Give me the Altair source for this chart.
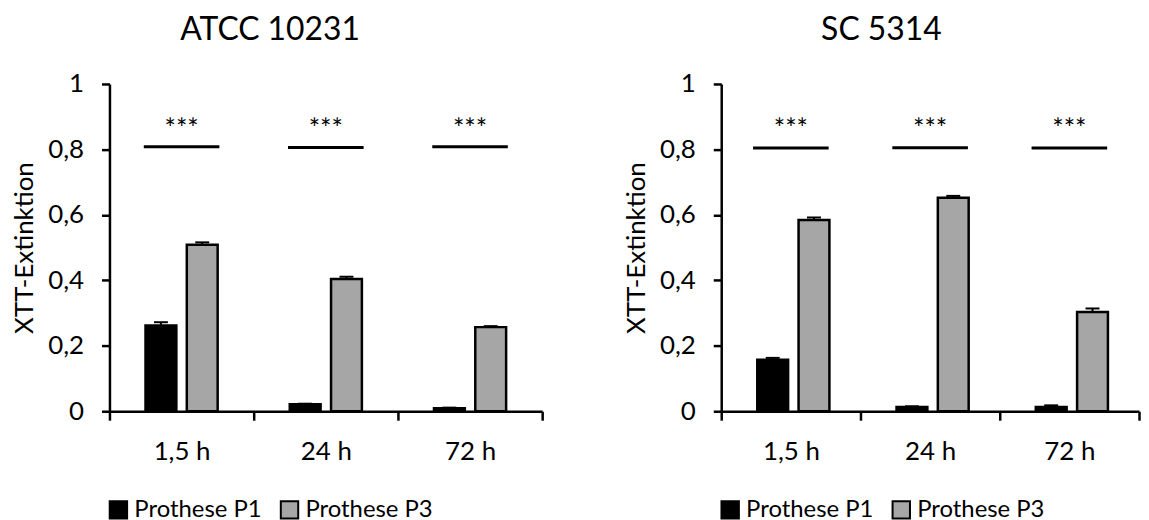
import altair as alt
import pandas as pd

times = ["1,5 h", "24 h", "72 h"]
groups = ["Prothese P1", "Prothese P3"]

titles = ["ATCC 10231", "SC 5314"]
atcc_p1 = [0.262, 0.021, 0.009]
atcc_p3 = [0.509, 0.404, 0.257]
atcc_p1_err = [0.010, 0.002, 0.002]
atcc_p3_err = [0.007, 0.007, 0.003]
sc_p1 = [0.157, 0.013, 0.013]
sc_p3 = [0.584, 0.652, 0.303]
sc_p1_err = [0.006, 0.002, 0.005]
sc_p3_err = [0.008, 0.006, 0.011]
sig_atcc = [0.808, 0.806, 0.808]
sig_sc = [0.804, 0.805, 0.804]
star_y = 0.88
stars = "***"

FONT = "Lato"
GRAY = "#A6A6A6"


def make_df(p1, p3, e1, e3):
    rows = []
    for i, t in enumerate(times):
        rows.append({"time": t, "group": groups[0], "v": p1[i], "top": p1[i] + e1[i]})
        rows.append({"time": t, "group": groups[1], "v": p3[i], "top": p3[i] + e3[i]})
    return pd.DataFrame(rows)


def panel(df, sig, title, width, title_dx, legend_x, po):
    sig_df = pd.DataFrame({"time": times, "y": sig, "s": [stars] * 3, "sy": [star_y] * 3})
    x = alt.X("time:N", sort=times, title=None,
              scale=alt.Scale(paddingInner=0, paddingOuter=0),
              axis=alt.Axis(labelAngle=0, tickBand="extent", tickSize=9, tickWidth=2.5,
                            domainWidth=2.5, domainColor="black", tickColor="black",
                            labelFontSize=26, labelFont=FONT, labelColor="black",
                            labelPadding=19, grid=False))
    xo = alt.XOffset("group:N", sort=groups,
                     scale=alt.Scale(paddingInner=0.253, paddingOuter=po))
    y = alt.Y("v:Q", scale=alt.Scale(domain=[0, 1]),
              title="XTT-Extinktion",
              axis=alt.Axis(values=[0, 0.2, 0.4, 0.6, 0.8, 1],
                            labelExpr="replace(format(datum.value, '~g'), '.', ',')",
                            tickSize=8, tickWidth=2.5, domainWidth=2.5,
                            domainColor="black", tickColor="black", grid=False,
                            labelFontSize=26, labelFont=FONT, labelColor="black",
                            labelPadding=18, titleFontSize=26, titleFont=FONT,
                            titleFontWeight="normal", titleColor="black", titlePadding=10))
    color = alt.Color("group:N", sort=groups,
                      scale=alt.Scale(domain=groups, range=["black", GRAY]),
                      legend=alt.Legend(title=None, orient="none", direction="horizontal",
                                        legendX=legend_x, legendY=416,
                                        symbolType="square", symbolSize=306,
                                        symbolStrokeColor="black", symbolStrokeWidth=2,
                                        labelFontSize=24, labelFont=FONT, labelColor="black",
                                        columnPadding=14, labelOffset=4, padding=0))
    bars = alt.Chart(df).mark_bar(stroke="black", strokeWidth=2.5).encode(
        x=x, xOffset=xo, y=y, color=color)
    err = alt.Chart(df).mark_rule(color="black", strokeWidth=2).encode(
        x=x, xOffset=xo, y="v:Q", y2="top:Q")
    cap = alt.Chart(df).mark_tick(color="black", size=14, thickness=2, opacity=1).encode(
        x=x, xOffset=xo, y="top:Q")
    sigline = alt.Chart(sig_df).mark_tick(color="black", size=76, thickness=3, opacity=1).encode(
        x=alt.X("time:N", sort=times), y="y:Q")
    startext = alt.Chart(sig_df).mark_text(font=FONT, fontSize=27, color="black",
                                           baseline="alphabetic", dy=15).encode(
        x=alt.X("time:N", sort=times), y="sy:Q", text="s:N")
    return alt.layer(bars, err, cap, sigline, startext).properties(
        width=width, height=329,
        title=alt.TitleParams(title, fontSize=32, font=FONT, fontWeight="normal",
                              color="black", dx=title_dx, offset=24, anchor="middle"))


left = panel(make_df(atcc_p1, atcc_p3, atcc_p1_err, atcc_p3_err), sig_atcc, titles[0],
             435, -56, -3, 0.873)
right = panel(make_df(sc_p1, sc_p3, sc_p1_err, sc_p3_err), sig_sc, titles[1],
              420, -49, -3, 0.8)

chart = alt.hconcat(left, right, spacing=79).resolve_scale(color="independent").properties(
    padding={"left": 3, "top": 5, "right": 0, "bottom": 0}
).configure_view(stroke=None)

chart.save("out.html", embed_options={"renderer": "svg", "actions": False})
